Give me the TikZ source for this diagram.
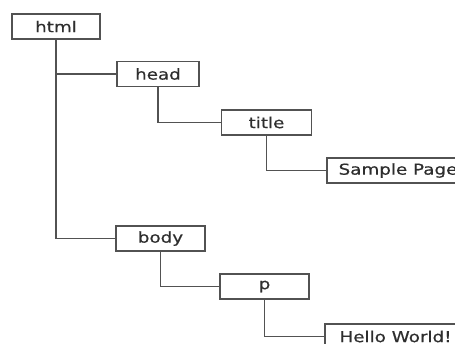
\documentclass[tikz,border=0pt]{standalone}
\usepackage{fontspec}
\newfontfamily\treefont[FakeStretch=1.22,FakeBold=0.5]{DejaVu Sans}
\begin{document}
\begin{tikzpicture}[x=1pt,y=-1pt,
  elem/.style={draw=black!68, line width=1.2pt, fill=white, rectangle,
    minimum height=25pt, inner sep=0pt, text=black!82,
    font=\treefont\fontsize{15pt}{17pt}\selectfont},
  link/.style={draw=black!68, line width=1.2pt}]
\useasboundingbox (0,0) rectangle (455,343);
\clip (0,0) rectangle (455,343);
% element boxes
\node[elem, minimum width=88pt]  (html)   at (56,26.5)    {html};
\node[elem, minimum width=82pt]  (head)   at (158,74)     {head};
\node[elem, minimum width=90pt]  (title)  at (266.5,122.5){title};
\node[elem, minimum width=142pt] (sample) at (398,170.5)  {Sample Page};
\node[elem, minimum width=89pt]  (body)   at (160.5,238.5){body};
\node[elem, minimum width=89pt]  (p)      at (264.5,286.5){p};
\node[elem, minimum width=141pt] (hello)  at (395.5,336.5){Hello World!};
% tree connectors
\draw[link] (html.south) |- (body.west);
\draw[link] (html.south |- head.west) -- (head.west);
\draw[link] (head.south) |- (title.west);
\draw[link] (title.south) |- (sample.west);
\draw[link] (body.south) |- (p.west);
\draw[link] (p.south) |- (hello.west);
\end{tikzpicture}
\end{document}
